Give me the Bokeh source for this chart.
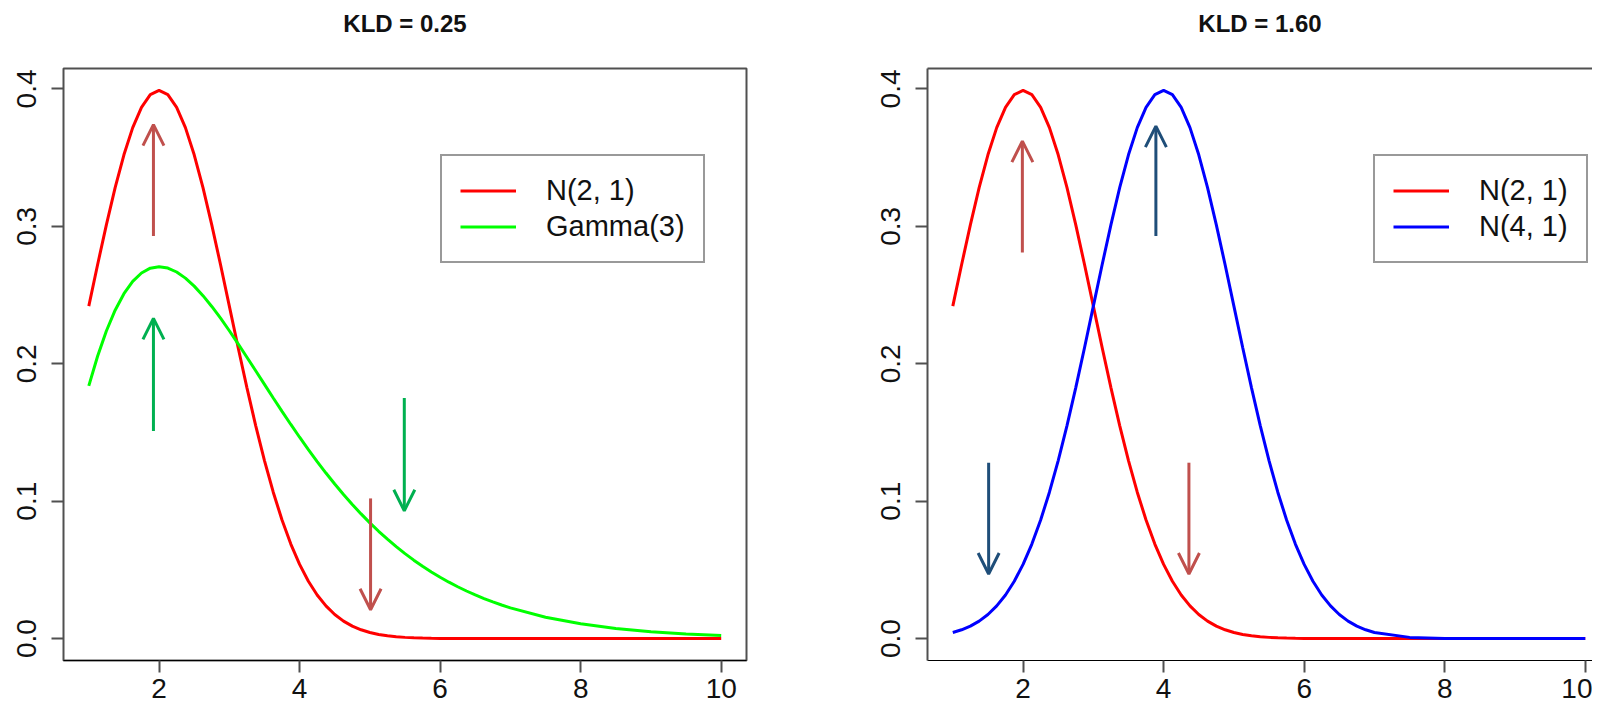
from bokeh.plotting import figure
from bokeh.models import (Range1d, FixedTicker, PrintfTickFormatter, Legend, LegendItem,
                          Arrow, OpenHead, LinearAxis, ColumnDataSource)
from bokeh.core.properties import value
from bokeh.layouts import row
from bokeh.embed import file_html
from bokeh.resources import INLINE

# ---------------- data ----------------
X = [1.0, 1.125, 1.25, 1.375, 1.5, 1.625, 1.75, 1.875, 2.0, 2.125, 2.25, 2.375, 2.5, 2.625,
     2.75, 2.875, 3.0, 3.125, 3.25, 3.375, 3.5, 3.625, 3.75, 3.875, 4.0, 4.125, 4.25, 4.375,
     4.5, 4.625, 4.75, 4.875, 5.0, 5.125, 5.25, 5.375, 5.5, 5.625, 5.75, 5.875, 6.0, 6.125,
     6.25, 6.375, 6.5, 6.625, 6.75, 6.875, 7.0, 7.5, 8.0, 8.5, 9.0, 9.5, 10.0]

N21 = [0.24197, 0.27205, 0.30114, 0.32816, 0.35207, 0.37185, 0.38667, 0.39584, 0.39894,
       0.39584, 0.38667, 0.37185, 0.35207, 0.32816, 0.30114, 0.27205, 0.24197, 0.21188,
       0.18265, 0.15501, 0.12952, 0.10654, 0.08628, 0.06879, 0.05399, 0.04173, 0.03174,
       0.02377, 0.01753, 0.01273, 0.00909, 0.00640, 0.00443, 0.00302, 0.00203, 0.00134,
       0.00087, 0.00056, 0.00035, 0.00022, 0.00013, 0.00008, 0.00005, 0.0, 0.0, 0.0, 0.0,
       0.0, 0.0, 0.0, 0.0, 0.0, 0.0, 0.0, 0.0]

GAMMA3 = [0.18394, 0.20544, 0.22383, 0.23901, 0.25102, 0.25999, 0.26609, 0.26957, 0.27067,
          0.26966, 0.26679, 0.26233, 0.25652, 0.24958, 0.24173, 0.23316, 0.22404, 0.21454,
          0.20478, 0.19488, 0.18496, 0.17509, 0.16536, 0.15582, 0.14653, 0.13751, 0.12882,
          0.12047, 0.11248, 0.10485, 0.09760, 0.09073, 0.08422, 0.07809, 0.07232, 0.06689,
          0.06181, 0.05706, 0.05262, 0.04847, 0.04462, 0.04103, 0.03771, 0.03462, 0.03176,
          0.02912, 0.02667, 0.02442, 0.02234, 0.01556, 0.01073, 0.00735, 0.00500, 0.00337,
          0.00227]

N41 = [0.00443, 0.00640, 0.00909, 0.01273, 0.01753, 0.02377, 0.03174, 0.04173, 0.05399,
       0.06879, 0.08628, 0.10654, 0.12952, 0.15501, 0.18265, 0.21188, 0.24197, 0.27205,
       0.30114, 0.32816, 0.35207, 0.37185, 0.38667, 0.39584, 0.39894, 0.39584, 0.38667,
       0.37185, 0.35207, 0.32816, 0.30114, 0.27205, 0.24197, 0.21188, 0.18265, 0.15501,
       0.12952, 0.10654, 0.08628, 0.06879, 0.05399, 0.04173, 0.03174, 0.02377, 0.01753,
       0.01273, 0.00909, 0.00640, 0.00443, 0.00087, 0.00013, 0.0, 0.0, 0.0, 0.0]

TITLES = ["KLD = 0.25", "KLD = 1.60"]
LEFT_LABELS = ["N(2, 1)", "Gamma(3)"]
RIGHT_LABELS = ["N(2, 1)", "N(4, 1)"]
X_TICKS = [2, 4, 6, 8, 10]
Y_TICKS = [0.0, 0.1, 0.2, 0.3, 0.4]

# annotation arrows: x, start y, end (tip) y, colour
L_ARROW_X = [1.92, 1.92, 5.49, 5.01]
L_ARROW_Y0 = [0.293, 0.151, 0.175, 0.102]
L_ARROW_Y1 = [0.374, 0.233, 0.093, 0.021]
L_ARROW_C = ["#C0504D", "#00B050", "#00B050", "#C0504D"]

R_ARROW_X = [1.99, 3.89, 1.51, 4.36]
R_ARROW_Y0 = [0.281, 0.293, 0.128, 0.128]
R_ARROW_Y1 = [0.362, 0.373, 0.047, 0.047]
R_ARROW_C = ["#C0504D", "#1F4E79", "#1F4E79", "#C0504D"]

# ---------------- styling ----------------
FONT = "Liberation Sans"
BOX = "#505050"
H = 703
TOP = 68

src = ColumnDataSource(dict(x=X, n21=N21, g3=GAMMA3, n41=N41))


def base_fig(width, left_border, right_border, x_end, title, top_line):
    p = figure(width=width, height=H, x_range=Range1d(0.64, x_end),
               y_range=Range1d(-0.01596, 0.4149), output_backend="svg",
               toolbar_location=None, min_border_left=left_border,
               min_border_right=right_border, min_border_top=TOP, min_border_bottom=43,
               title=title)
    p.grid.visible = False
    p.background_fill_color = "white"
    p.border_fill_color = "white"
    p.title.align = "center"
    p.title.text_font = FONT
    p.title.text_font_style = "bold"
    p.title.text_font_size = "24px"
    p.title.text_color = "#111111"
    p.title.standoff = 14
    p.xaxis.ticker = FixedTicker(ticks=X_TICKS)
    p.yaxis.ticker = FixedTicker(ticks=Y_TICKS)
    p.yaxis.formatter = PrintfTickFormatter(format="%.1f")
    p.yaxis.major_label_orientation = "vertical"
    for ax in (p.xaxis[0], p.yaxis[0]):
        ax.major_tick_in = 0
        ax.major_tick_out = 12
        ax.major_tick_line_color = BOX
        ax.major_tick_line_width = 2
        ax.minor_tick_line_color = None
        ax.major_label_text_font = FONT
        ax.major_label_text_font_size = "28px"
        ax.major_label_text_color = "#111111"
    p.xaxis.major_label_standoff = 6
    p.yaxis.major_label_standoff = 15
    # spacer axis above the frame (invisible tick), optionally drawing the top border line
    top_ax = LinearAxis(ticker=FixedTicker(ticks=[5]), major_tick_out=25, major_tick_in=0,
                        major_tick_line_color=None,
                        major_label_text_color=None, major_label_text_font_size="1px",
                        major_label_standoff=0, minor_tick_line_color=None,
                        axis_line_color=BOX if top_line else None, axis_line_width=2)
    p.add_layout(top_ax, "above")
    return p


def add_arrows(p, xs, y0s, y1s, cols):
    for x, y0, y1, c in zip(xs, y0s, y1s, cols):
        p.add_layout(Arrow(end=OpenHead(size=21, line_color=c, line_width=3),
                           x_start=x, y_start=y0, x_end=x, y_end=y1,
                           line_color=c, line_width=3))


def add_legend(p, renderers, labels, loc):
    items = [LegendItem(label=value(lab), renderers=[r]) for lab, r in zip(labels, renderers)]
    leg = Legend(items=items, location=loc, label_text_font=FONT,
                 label_text_font_size="29px", label_text_color="#111111",
                 glyph_width=56, glyph_height=33, label_height=33, spacing=3,
                 padding=18, label_standoff=30, margin=0,
                 border_line_color="#333333", border_line_width=2,
                 background_fill_color="white", background_fill_alpha=1)
    p.add_layout(leg)


# ---------------- left panel ----------------
p1 = base_fig(800, 63, 54, 10.36, TITLES[0], False)
p1.xaxis[0].axis_line_color = None
p1.yaxis[0].axis_line_color = None
p1.outline_line_color = BOX
p1.outline_line_width = 2
p1.outline_line_alpha = 1
r_a = p1.line("x", "n21", source=src, line_color="#FF0000", line_width=3)
r_b = p1.line("x", "g3", source=src, line_color="#00FF00", line_width=3)
add_arrows(p1, L_ARROW_X, L_ARROW_Y0, L_ARROW_Y1, L_ARROW_C)
add_legend(p1, [r_a, r_b], LEFT_LABELS, (377, 397))

# ---------------- right panel (box cut by the page edge) ----------------
p2 = base_fig(792, 127, 0, 10.103, TITLES[1], True)
p2.outline_line_color = None
for ax in (p2.xaxis[0], p2.yaxis[0]):
    ax.axis_line_color = BOX
    ax.axis_line_width = 2
r_c = p2.line("x", "n21", source=src, line_color="#FF0000", line_width=3)
r_d = p2.line("x", "n41", source=src, line_color="#0000FF", line_width=3)
add_arrows(p2, R_ARROW_X, R_ARROW_Y0, R_ARROW_Y1, R_ARROW_C)
add_legend(p2, [r_c, r_d], RIGHT_LABELS, (446, 397))

layout = row(p1, p2)
open("out.html", "w").write(file_html(layout, INLINE))
